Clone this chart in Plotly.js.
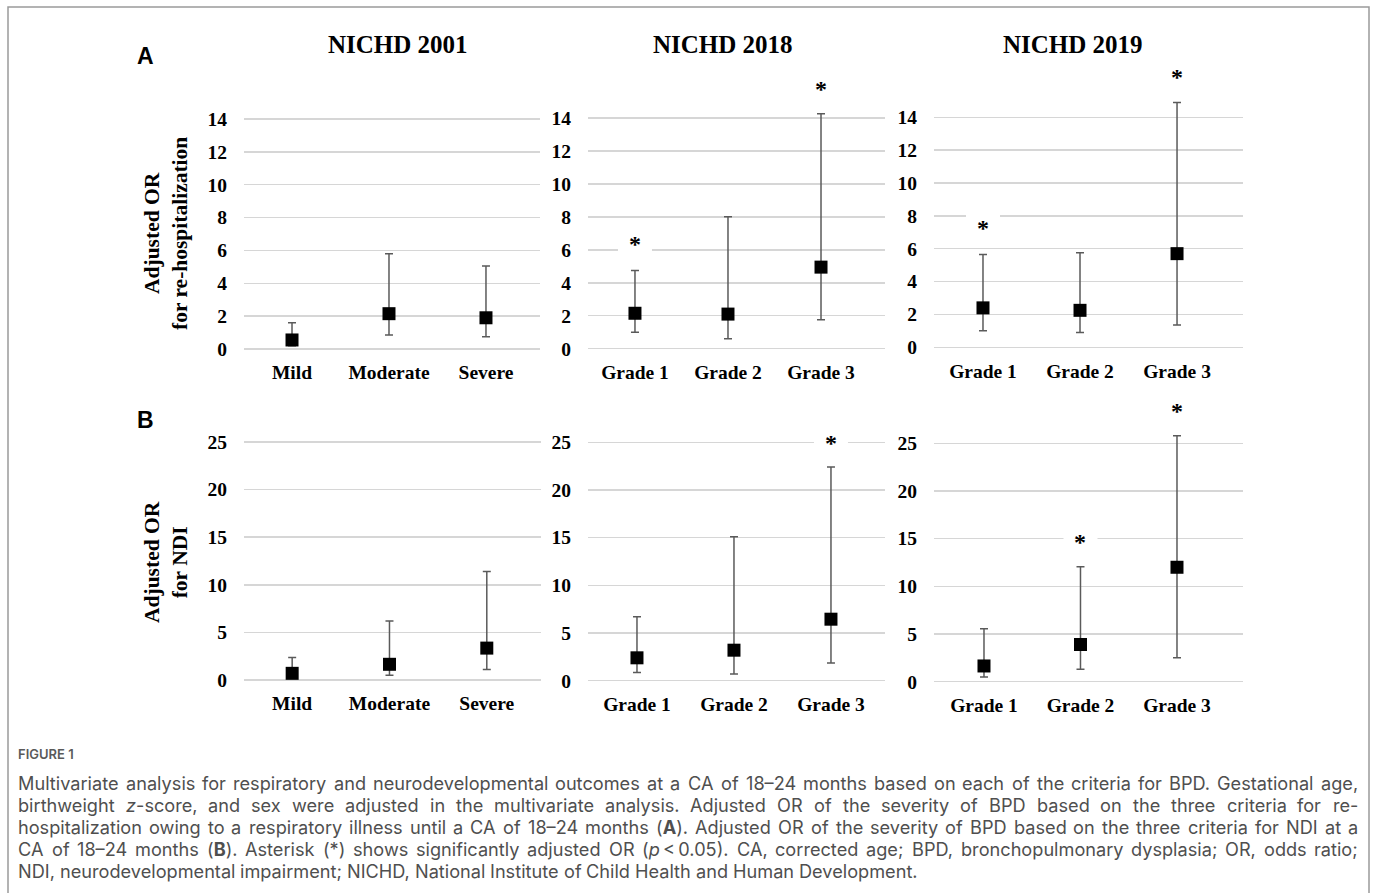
<!DOCTYPE html>
<html>
<head>
<meta charset="utf-8">
<script src="https://cdn.plot.ly/plotly-3.0.1.min.js"></script>
<style>
html,body{margin:0;padding:0;background:#fff;}
#chart{width:1375px;height:893px;}
</style>
</head>
<body>
<div id="chart"></div>
<script>
// ---------------- DATA ----------------
const panelTitles = ['NICHD 2001', 'NICHD 2018', 'NICHD 2019'];
const catsNICHD2001 = ['Mild', 'Moderate', 'Severe'];
const catsGrade = ['Grade 1', 'Grade 2', 'Grade 3'];
const rowLabels = ['A', 'B'];
const rowTitles = ['Adjusted OR<br>for re-hospitalization', 'Adjusted OR<br>for NDI'];
const rehospTicks = [0, 2, 4, 6, 8, 10, 12, 14];
const ndiTicks = [0, 5, 10, 15, 20, 25];

// (A) re-hospitalization: adjusted OR, lower / upper 95% CI, asterisk height (significant)
const rehospOR_2001 = [0.55, 2.15, 1.9];
const rehospLo_2001 = [0.2, 0.85, 0.75];
const rehospHi_2001 = [1.6, 5.8, 5.05];
const rehospStar_2001 = [null, null, null];

const rehospOR_2018 = [2.15, 2.1, 4.95];
const rehospLo_2018 = [1.0, 0.6, 1.75];
const rehospHi_2018 = [4.75, 8.0, 14.25];
const rehospStar_2018 = [6.4, null, 15.8];

const rehospOR_2019 = [2.4, 2.25, 5.7];
const rehospLo_2019 = [1.0, 0.9, 1.35];
const rehospHi_2019 = [5.65, 5.75, 14.9];
const rehospStar_2019 = [7.3, null, 16.5];

// (B) NDI: adjusted OR, lower / upper 95% CI, asterisk height (significant)
const ndiOR_2001 = [0.7, 1.65, 3.35];
const ndiLo_2001 = [0.3, 0.5, 1.1];
const ndiHi_2001 = [2.35, 6.2, 11.4];
const ndiStar_2001 = [null, null, null];

const ndiOR_2018 = [2.4, 3.2, 6.45];
const ndiLo_2018 = [0.85, 0.7, 1.85];
const ndiHi_2018 = [6.7, 15.1, 22.4];
const ndiStar_2018 = [null, null, 25.0];

const ndiOR_2019 = [1.65, 3.9, 12.0];
const ndiLo_2019 = [0.5, 1.3, 2.5];
const ndiHi_2019 = [5.55, 12.05, 25.8];
const ndiStar_2019 = [null, 14.8, 28.5];

const figureLabel = 'FIGURE 1';
const captionLines = [
  'Multivariate analysis for respiratory and neurodevelopmental outcomes at a CA of 18\u201324 months based on each of the criteria for BPD. Gestational age,',
  'birthweight <i>z</i>-score, and sex were adjusted in the multivariate analysis. Adjusted OR of the severity of BPD based on the three criteria for re-',
  'hospitalization owing to a respiratory illness until a CA of 18\u201324 months (<b>A</b>). Adjusted OR of the severity of BPD based on the three criteria for NDI at a',
  'CA of 18\u201324 months (<b>B</b>). Asterisk (*) shows significantly adjusted OR (<i>p</i>\u2009&lt;\u20090.05). CA, corrected age; BPD, bronchopulmonary dysplasia; OR, odds ratio;',
  'NDI, neurodevelopmental impairment; NICHD, National Institute of Child Health and Human Development.'
];

// ---------------- LAYOUT GEOMETRY ----------------
const W = 1375, H = 893;
const serif = '"Liberation Serif", "Times New Roman", Times, serif';
const sans = '"Liberation Sans", Arial, sans-serif';
const capFont = 'Inter, "Open Sans", sans-serif';
const capSize = 17.5;

const panels = [
  {cats: catsNICHD2001, or: rehospOR_2001, lo: rehospLo_2001, hi: rehospHi_2001, star: rehospStar_2001, ticks: rehospTicks},
  {cats: catsGrade, or: rehospOR_2018, lo: rehospLo_2018, hi: rehospHi_2018, star: rehospStar_2018, ticks: rehospTicks},
  {cats: catsGrade, or: rehospOR_2019, lo: rehospLo_2019, hi: rehospHi_2019, star: rehospStar_2019, ticks: rehospTicks},
  {cats: catsNICHD2001, or: ndiOR_2001, lo: ndiLo_2001, hi: ndiHi_2001, star: ndiStar_2001, ticks: ndiTicks},
  {cats: catsGrade, or: ndiOR_2018, lo: ndiLo_2018, hi: ndiHi_2018, star: ndiStar_2018, ticks: ndiTicks},
  {cats: catsGrade, or: ndiOR_2019, lo: ndiLo_2019, hi: ndiHi_2019, star: ndiStar_2019, ticks: ndiTicks}
];
const xPx = [[244,540],[588,885],[934,1243],[244,541],[588,885],[934,1243]];
const xRange = [[-0.495,2.557],[-0.505,2.688],[-0.505,2.68],[-0.495,2.557],[-0.505,2.557],[-0.518,2.684]];
const yZeroPx = [349,348.7,347.3,680,680.7,681.7];
const yUnitPx = [16.43,16.48,16.43,9.52,9.536,9.536];
const yRanges = [[-0.6,17.4],[-0.6,17.4],[-0.6,17.4],[-1,29.8],[-1,29.8],[-1,29.8]];

const tickFont = {family: serif, size: 19.5, color: '#000', weight: 700};

const data = [];
const layout = {
  width: W, height: H,
  margin: {l: 0, r: 0, t: 0, b: 0},
  paper_bgcolor: '#fff', plot_bgcolor: 'rgba(0,0,0,0)',
  showlegend: false,
  annotations: [], shapes: []
};

panels.forEach((p, k) => {
  const n = k + 1;
  data.push({
    type: 'scatter', mode: 'markers',
    x: p.cats, y: p.or,
    xaxis: 'x' + n, yaxis: 'y' + n,
    marker: {symbol: 'square', size: 13, color: '#000'},
    error_y: {
      type: 'data', symmetric: false,
      array: p.hi.map((h, i) => h - p.or[i]),
      arrayminus: p.lo.map((l, i) => p.or[i] - l),
      color: '#5a5a5a', thickness: 1.5, width: 4
    },
    hoverinfo: 'skip', cliponaxis: false
  });
  const yr = yRanges[k];
  const bottomPx = yZeroPx[k] - yr[0] * yUnitPx[k];
  const topPx = yZeroPx[k] - yr[1] * yUnitPx[k];
  layout['xaxis' + (n === 1 ? '' : n)] = {
    type: 'category', categoryorder: 'array', categoryarray: p.cats,
    domain: [xPx[k][0] / W, xPx[k][1] / W], range: xRange[k],
    anchor: 'y' + n, showgrid: false, zeroline: false, showline: false,
    ticks: '', tickfont: tickFont, fixedrange: true
  };
  layout['yaxis' + (n === 1 ? '' : n)] = {
    domain: [1 - bottomPx / H, 1 - topPx / H], range: yr,
    anchor: 'x' + n, tickmode: 'array', tickvals: p.ticks,
    showgrid: true, gridcolor: '#d6d6d6', gridwidth: 1.5,
    zeroline: false, showline: false, ticks: '',
    tickfont: tickFont, ticklabelstandoff: 16, fixedrange: true
  };
  p.star.forEach((s, i) => {
    if (s === null) return;
    layout.shapes.push({
      type: 'rect', xref: 'x' + n, yref: 'y' + n, layer: 'between',
      xsizemode: 'pixel', ysizemode: 'pixel', xanchor: i, yanchor: s,
      x0: -17, x1: 17, y0: -9, y1: 13,
      fillcolor: '#fff', line: {width: 0}
    });
    layout.annotations.push({
      xref: 'x' + n, yref: 'y' + n, x: i, y: s, text: '*', showarrow: false,
      font: {family: serif, size: 24, color: '#000', weight: 700},
      xanchor: 'center', yanchor: 'middle', yshift: -1, borderpad: 0, borderwidth: 0
    });
  });
});

// panel titles
const titleX = [398, 723, 1073];
panelTitles.forEach((t, i) => {
  layout.annotations.push({
    xref: 'paper', yref: 'paper', x: titleX[i] / W, y: 1 - 44 / H, text: t, showarrow: false,
    font: {family: serif, size: 25, color: '#000', weight: 700}, xanchor: 'center', yanchor: 'middle'
  });
});
// row labels and y titles
const rowLabelY = [56, 420];
const rowTitleY = [234, 562];
rowLabels.forEach((t, i) => {
  layout.annotations.push({
    xref: 'paper', yref: 'paper', x: 145 / W, y: 1 - rowLabelY[i] / H, text: t, showarrow: false,
    font: {family: sans, size: 23, color: '#000', weight: 700}, xanchor: 'center', yanchor: 'middle'
  });
  layout.annotations.push({
    xref: 'paper', yref: 'paper', x: 166 / W, y: 1 - rowTitleY[i] / H, text: rowTitles[i], showarrow: false,
    textangle: -90, font: {family: serif, size: 21.5, color: '#000', weight: 700},
    xanchor: 'center', yanchor: 'middle', align: 'center'
  });
});

// border frame
const bx0 = 8 / W, bx1 = 1369 / W, by = 1 - 7 / H;
layout.shapes.push({
  type: 'path', xref: 'paper', yref: 'paper', layer: 'above',
  path: `M ${bx0},-0.02 L ${bx0},${by} L ${bx1},${by} L ${bx1},-0.02`,
  line: {color: '#9a9a9a', width: 1.5}
});

// caption
layout.annotations.push({
  xref: 'paper', yref: 'paper', x: 18 / W, y: 1 - 754 / H, text: figureLabel, showarrow: false,
  font: {family: capFont, size: 13, color: '#5a5a5a', weight: 600}, xanchor: 'left', yanchor: 'middle',
  borderpad: 0, borderwidth: 0
});
const capLeft = 18, capRight = 1358, capWidth = capRight - capLeft;
const lastLineTarget = 922;
const capLineY = [783, 805, 827, 849, 871];
const lineWords = captionLines.map(l => l.split(' '));
const capIdx = [];
lineWords.forEach((words, li) => {
  const idxs = [];
  let x = capLeft;
  words.forEach((w) => {
    idxs.push(layout.annotations.length);
    layout.annotations.push({
      xref: 'paper', yref: 'paper', x: x / W, y: 1 - capLineY[li] / H, text: w, showarrow: false,
      font: {family: capFont, size: capSize, color: '#4f4f4f'}, xanchor: 'left', yanchor: 'middle',
      borderpad: 0, borderwidth: 0
    });
    x += w.length * capSize * 0.52;
  });
  capIdx.push(idxs);
});

const gd = document.getElementById('chart');
let curSize = capSize;
function bb(ix) {
  const t = gd.querySelector(`g.annotation[data-index="${ix}"] text.annotation-text`);
  return t ? t.getBBox() : {width: 0, height: 0};
}
function fit() {
  const last = capIdx[capIdx.length - 1];
  const w = last.reduce((a, ix) => a + bb(ix).width, 0) + curSize * 0.27 * (last.length - 1);
  const h = bb(last[0]).height;
  if (!w || !h) return Promise.resolve();
  const s = Math.min(curSize * lastLineTarget / w, curSize * 21.4 / h);
  if (Math.abs(s - curSize) < 0.05) return Promise.resolve();
  curSize = s;
  const upd = {};
  capIdx.forEach(idxs => idxs.forEach(ix => { upd[`annotations[${ix}].font.size`] = s; }));
  return Plotly.relayout(gd, upd);
}
function justify() {
  const upd = {};
  capIdx.forEach((idxs, li) => {
    const ws = idxs.map(ix => bb(ix).width);
    const tot = ws.reduce((a, b) => a + b, 0);
    let gap = curSize * 0.27;
    if (li < captionLines.length - 1) gap = (capWidth - tot) / (idxs.length - 1);
    let x = capLeft;
    idxs.forEach((ix, k) => {
      upd[`annotations[${ix}].x`] = x / W;
      x += ws[k] + gap;
    });
  });
  return Plotly.relayout(gd, upd);
}
Plotly.newPlot(gd, data, layout, {displayModeBar: false, staticPlot: true})
  .then(fit).then(justify);
if (document.fonts && document.fonts.ready) {
  document.fonts.ready.then(() => setTimeout(() => { fit().then(justify); }, 30));
}
</script>
</body>
</html>
